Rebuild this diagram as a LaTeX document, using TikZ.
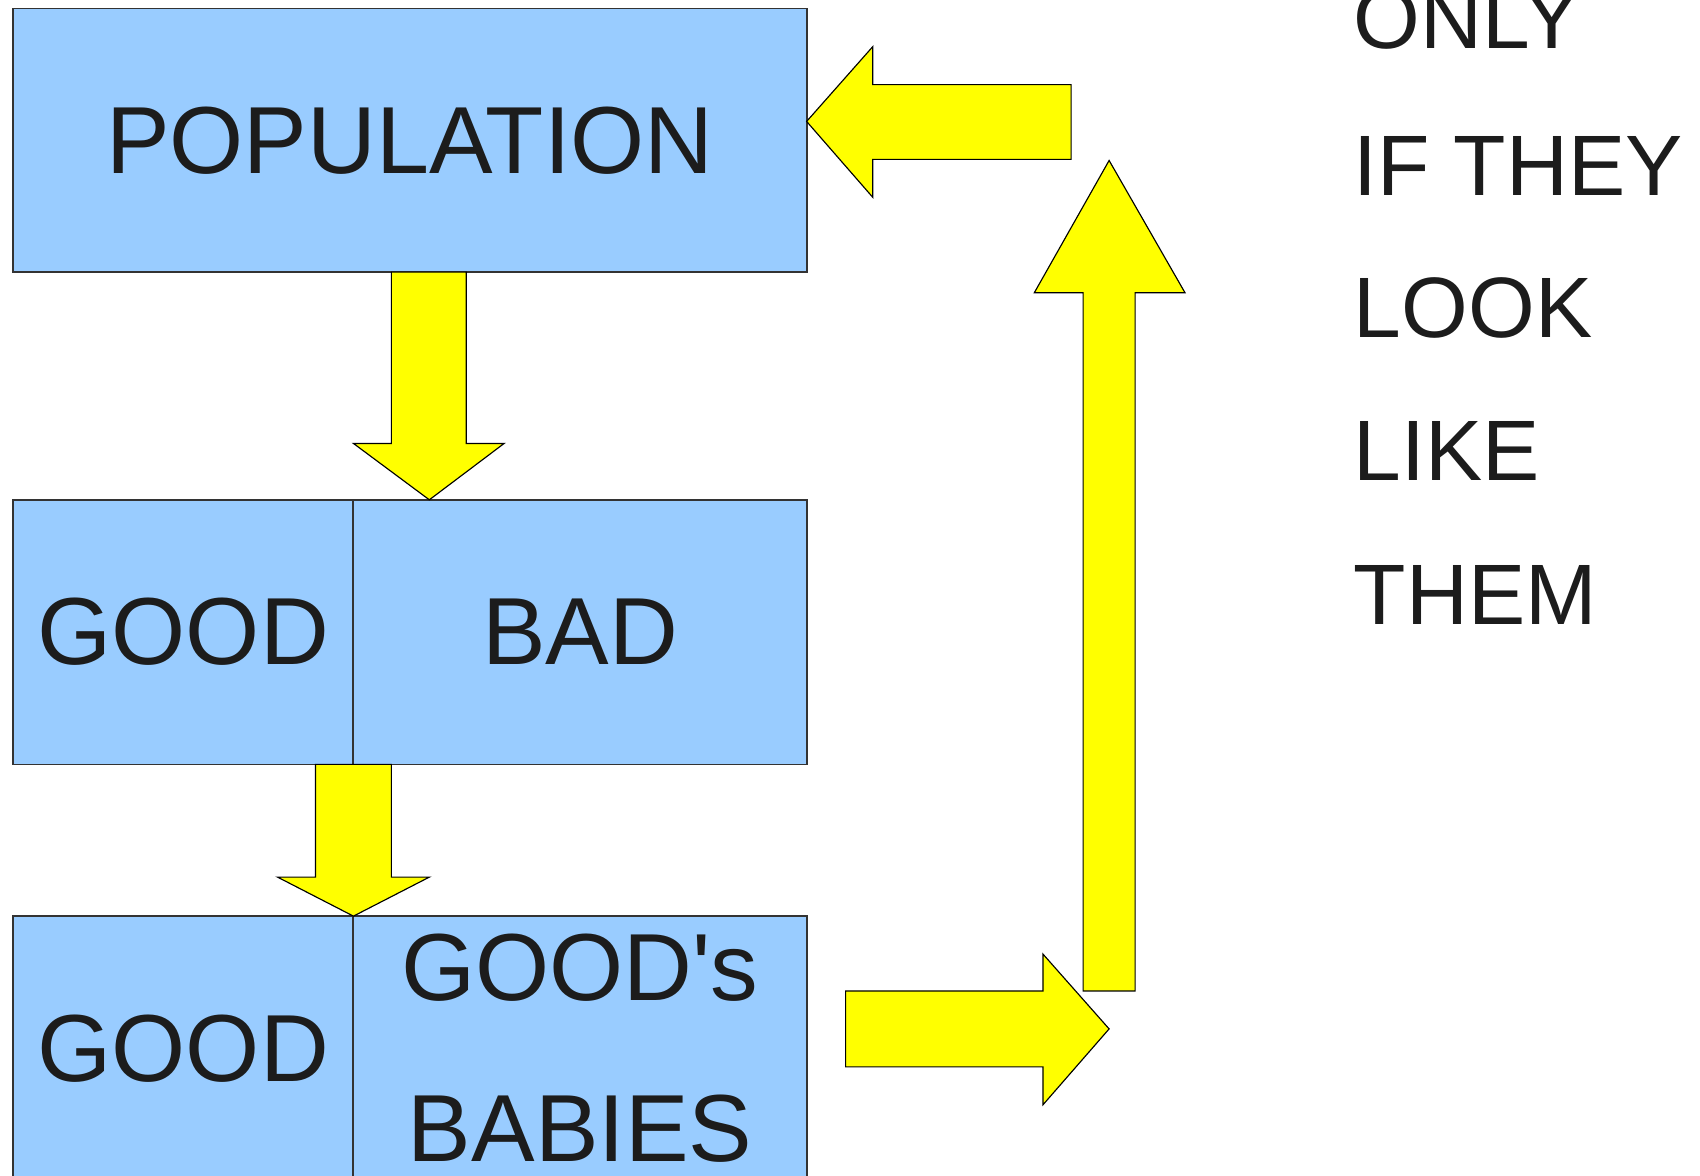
\documentclass[tikz,border=0pt]{standalone}
\usepackage{fontspec}
\setmainfont{Liberation Sans}
\definecolor{cellblue}{HTML}{99CCFF}
\definecolor{arrowyellow}{HTML}{FFFF00}
\definecolor{ink}{HTML}{1C1C1C}
\newcommand{\straightquote}{{\addfontfeatures{Ligatures=TeXOff}'}}
\begin{document}
\begin{tikzpicture}[x=0.01cm,y=-0.01cm,
  cell/.style={draw=black!80, line width=0.45pt, fill=cellblue, text=ink,
    inner sep=0pt, minimum height=2.44cm, align=center,
    font=\fontsize{25}{42.1}\selectfont},
  blockarrow/.style={draw=black, line width=0.3pt, fill=arrowyellow, line join=miter},
  sidetext/.style={anchor=base west, inner sep=0pt, text=ink,
    font=\fontsize{22.5}{26}\selectfont}]
\clip (0,0) rectangle (1568,1084);
\fill[white] (0,0) rectangle (1568,1084);

% boxes
\node[cell, minimum width=7.32cm, minimum height=2.43cm] (pop) at (378,129.5) {POPULATION};
\node[cell, minimum width=3.14cm] (midgood) at (169,583) {GOOD};
\node[cell, minimum width=4.18cm] (midbad) at (535,583) {BAD};
\node[cell, minimum width=3.14cm] (botgood) at (169,967) {GOOD};
\node[cell, minimum width=4.18cm] (botbabies) at (535,967) {GOOD\straightquote s\\BABIES};

% arrow tips
\coordinate (t1) at (396,461);
\coordinate (t2) at (326,845);
\coordinate (t3) at (1023,949);
\coordinate (t4) at (1023,148);
\coordinate (t5) at (744,112);

% population -> good/bad
\draw[blockarrow] (t1) -- ++(-70,-52) -- ++(35,0) -- ++(0,-158) -- ++(69,0)
  -- ++(0,158) -- ++(35,0) -- cycle;
% good -> good / good's babies
\draw[blockarrow] (t2) -- ++(-70,-36) -- ++(35,0) -- ++(0,-104) -- ++(70,0)
  -- ++(0,104) -- ++(35,0) -- cycle;
% out to the right
\draw[blockarrow] (t3) -- ++(-61,-69) -- ++(0,34) -- ++(-182,0) -- ++(0,70)
  -- ++(182,0) -- ++(0,35) -- cycle;
% back up
\draw[blockarrow] (t4) -- ++(-69,122) -- ++(45,0) -- ++(0,644) -- ++(48,0)
  -- ++(0,-644) -- ++(46,0) -- cycle;
% back into the population
\draw[blockarrow] (t5) -- ++(61,-69) -- ++(0,35) -- ++(183,0) -- ++(0,69)
  -- ++(-183,0) -- ++(0,35) -- cycle;

% side caption
\node[sidetext] (w1) at (1248,45) {ONLY};
\node[sidetext] (w2) at (1248,180) {IF THEY};
\node[sidetext] (w3) at (1248,311) {LOOK};
\node[sidetext] (w4) at (1248,443) {LIKE};
\node[sidetext] (w5) at (1248,576) {THEM};
\end{tikzpicture}
\end{document}
